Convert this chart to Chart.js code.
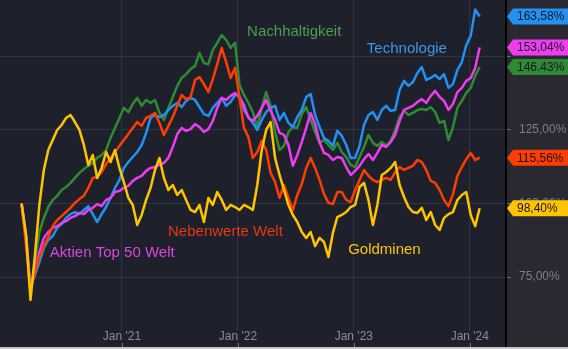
<!DOCTYPE html>
<html>
<head>
<meta charset="utf-8">
<script src="https://cdn.jsdelivr.net/npm/chart.js@4.4.1/dist/chart.umd.min.js"></script>
<style>
  html, body { margin: 0; padding: 0; background: #2a2932; }
  #wrap { width: 568px; height: 349px; }
</style>
</head>
<body>
<div id="wrap"><canvas id="chartPerformance" width="568" height="349"></canvas></div>
<script>
//* DATOS: Werte alle 14 Tage ab 20.02.2020 (Tag 0 = 01.01.2020)
const startDay = 50;
const stepDays = 14;
const tickDays = [366, 731, 1096, 1461];
const tickLabels = ["Jan '21", "Jan '22", "Jan '23", "Jan '24"];
const gridValues = [75, 100, 125, 150];
const labelledValues = [75, 100, 125];

const technologie = [100.0, 89.3, 71.3, 75.7, 80.1, 84.9, 87.6, 88.9, 91.7, 93.0,
  95.1, 96.4, 97.1, 96.4, 97.8, 99.1, 96.4, 93.7, 96.4, 98.8,
  101.9, 105.3, 108.0, 112.1, 114.1, 115.8, 117.5, 119.9, 124.0, 129.1,
  130.1, 129.4, 130.1, 131.8, 133.2, 134.2, 132.8, 134.9, 135.9, 135.2,
  132.8, 130.4, 129.8, 132.5, 134.2, 135.9, 133.2, 134.5, 136.9, 136.6,
  131.8, 129.4, 127.4, 125.0, 128.4, 131.1, 132.5, 133.2, 128.4, 130.8,
  127.4, 126.0, 129.4, 131.8, 136.2, 137.2, 130.1, 126.0, 122.3, 121.3,
  119.6, 124.7, 123.0, 119.9, 115.5, 115.5, 119.6, 126.7, 130.1, 131.1,
  128.4, 131.8, 133.2, 131.5, 131.8, 138.6, 141.7, 140.0, 141.3, 144.4,
  146.4, 142.0, 142.7, 143.7, 142.3, 144.0, 139.3, 140.6, 145.4, 148.1,
  153.9, 157.0, 166.0, 163.58];

const aktienTop50 = [100.0, 88.3, 70.6, 76.7, 83.5, 88.3, 90.3, 91.7, 92.3, 93.4,
  94.0, 95.1, 95.7, 96.8, 96.4, 97.8, 98.5, 99.8, 99.1, 101.2,
  101.9, 103.9, 104.3, 105.3, 106.0, 107.7, 108.7, 109.4, 111.1, 112.1,
  112.4, 113.1, 113.8, 115.5, 119.2, 123.6, 125.7, 124.7, 125.3, 127.0,
  126.0, 124.3, 125.3, 128.1, 132.5, 135.9, 135.2, 136.6, 137.6, 136.2,
  133.5, 129.1, 128.1, 129.8, 132.5, 135.2, 131.5, 128.4, 124.0, 123.3,
  119.9, 112.8, 116.5, 120.9, 125.7, 130.8, 127.0, 120.9, 117.2, 116.5,
  114.8, 115.8, 115.5, 112.4, 109.7, 111.1, 112.8, 115.1, 116.8, 114.8,
  117.2, 119.9, 119.2, 120.9, 123.3, 128.1, 131.8, 132.5, 133.2, 134.5,
  135.5, 134.2, 136.6, 138.3, 136.2, 134.9, 131.8, 133.8, 137.9, 139.3,
  141.7, 142.7, 146.1, 153.04];

const nachhaltigkeit = [100.0, 87.6, 69.9, 80.1, 90.3, 95.1, 98.8, 101.2, 102.6, 104.6,
  105.6, 107.0, 108.7, 110.4, 111.7, 112.8, 113.8, 115.5, 116.5, 118.2,
  122.3, 125.7, 129.1, 132.5, 131.1, 133.8, 135.9, 133.2, 135.2, 134.2,
  135.2, 130.8, 128.4, 132.5, 136.2, 140.0, 142.7, 144.0, 145.7, 146.8,
  151.2, 147.8, 147.4, 152.2, 154.6, 157.3, 155.6, 152.9, 154.6, 140.3,
  136.9, 134.2, 131.1, 126.0, 132.5, 137.9, 133.2, 124.3, 118.2, 119.6,
  124.3, 126.0, 125.7, 130.4, 132.8, 128.4, 124.3, 120.6, 121.6, 119.9,
  118.2, 120.6, 117.5, 115.8, 113.1, 112.4, 115.8, 119.2, 123.3, 120.6,
  119.6, 120.9, 119.6, 121.3, 125.0, 129.4, 131.5, 130.1, 130.8, 131.8,
  132.1, 131.8, 132.8, 131.1, 127.4, 128.1, 121.6, 126.0, 132.5, 134.9,
  137.6, 139.3, 143.4, 146.43];

const nebenwerte = [100.0, 85.9, 70.6, 76.7, 81.8, 85.5, 88.6, 92.3, 94.4, 95.7,
  97.1, 98.5, 100.2, 101.5, 102.6, 105.3, 108.7, 109.0, 110.7, 113.4,
  115.5, 117.5, 119.6, 121.6, 123.6, 125.7, 127.7, 126.4, 129.1, 129.8,
  130.8, 127.4, 123.3, 126.4, 129.4, 133.2, 136.9, 135.5, 136.2, 142.0,
  143.0, 140.6, 137.9, 142.3, 147.4, 152.9, 148.1, 142.7, 146.1, 135.9,
  125.7, 122.6, 115.5, 117.5, 121.3, 118.2, 110.4, 107.3, 101.9, 106.3,
  101.9, 97.8, 102.9, 106.6, 112.1, 115.5, 112.1, 108.0, 103.2, 100.2,
  99.8, 103.9, 103.9, 101.2, 100.5, 104.6, 108.0, 111.4, 109.4, 108.0,
  107.3, 108.0, 108.7, 108.0, 110.7, 112.4, 111.4, 112.1, 112.8, 114.8,
  114.1, 111.4, 107.7, 107.0, 104.6, 101.2, 99.1, 103.2, 109.4, 112.4,
  115.1, 117.2, 114.8, 115.56];

const goldminen = [100.0, 89.3, 67.2, 82.5, 99.5, 111.4, 118.2, 121.6, 125.0, 126.7,
  129.1, 130.1, 127.7, 125.0, 119.9, 113.1, 116.5, 108.7, 112.1, 117.5,
  114.1, 118.2, 112.1, 107.3, 101.9, 99.5, 92.7, 96.1, 101.2, 105.3,
  111.4, 115.5, 108.7, 104.6, 106.3, 102.9, 104.6, 101.2, 97.8, 97.1,
  99.5, 93.7, 101.9, 99.5, 103.9, 101.2, 97.8, 99.5, 98.8, 97.8,
  99.5, 98.8, 97.8, 106.3, 118.2, 125.0, 127.7, 115.5, 109.7, 104.6,
  99.5, 96.1, 93.7, 90.3, 88.3, 90.3, 85.5, 88.3, 86.9, 81.8,
  90.0, 95.4, 96.1, 97.1, 98.8, 99.5, 105.6, 107.0, 101.2, 92.7,
  99.5, 109.7, 110.7, 112.1, 114.1, 106.3, 102.2, 98.8, 97.1, 96.8,
  98.5, 94.4, 97.1, 92.7, 91.0, 95.1, 96.4, 97.1, 101.2, 102.9,
  103.9, 96.1, 92.3, 98.40];

// Reihenfolge = Zeichenreihenfolge (erste Reihe liegt oben)
const series = [
  { name: 'Goldminen', values: goldminen, color: '#ffc400', text: '#ffc400', sep: ',', at: [1078, 84.2] },
  { name: 'Nebenwerte Welt', values: nebenwerte, color: '#ff3d00', text: '#e8380c', sep: ',', at: [511, 90.3] },
  { name: 'Aktien Top 50 Welt', values: aktienTop50, color: '#f03cf0', text: '#d946e0', sep: ',', at: [139, 83.2] },
  { name: 'Technologie', values: technologie, color: '#2191f3', text: '#3d96e8', sep: ',', at: [1137, 152.5] },
  { name: 'Nachhaltigkeit', values: nachhaltigkeit, color: '#2f8a34', text: '#4c9f50', sep: '.', at: [760, 158.3] }
];

const plotBg = '#1e212c';
const panelBg = '#2a2932';
const fontFamily = '"Liberation Sans", Arial, sans-serif';

const fmtPct = (v, sep) => v.toFixed(2).replace('.', sep) + '%';

// Hintergrund: Plotbereich dunkel, Skalenleiste rechts etwas heller
const backgroundPlugin = {
  id: 'background',
  beforeDraw(chart) {
    const { ctx, chartArea: a, width, height } = chart;
    ctx.save();
    ctx.fillStyle = panelBg;
    ctx.fillRect(0, 0, width, height);
    ctx.fillStyle = plotBg;
    ctx.fillRect(a.left, a.top, a.right - a.left, a.bottom - a.top);
    ctx.restore();
  }
};

// Reihennamen direkt im Chart
const seriesNamesPlugin = {
  id: 'seriesNames',
  beforeDatasetsDraw(chart) {
    const { ctx, scales } = chart;
    ctx.save();
    ctx.font = '15px ' + fontFamily;
    ctx.textAlign = 'left';
    ctx.textBaseline = 'middle';
    series.forEach(s => {
      ctx.fillStyle = s.text;
      ctx.fillText(s.name, scales.x.getPixelForValue(s.at[0]), scales.y.getPixelForValue(s.at[1]));
    });
    ctx.restore();
  }
};

// Zeitachse: Beschriftung innerhalb des Plotbereichs
const timeAxisPlugin = {
  id: 'timeAxis',
  afterDraw(chart) {
    const { ctx, chartArea: a, scales, width, height } = chart;
    ctx.save();
    ctx.font = '12px ' + fontFamily;
    ctx.textAlign = 'center';
    ctx.textBaseline = 'middle';
    tickDays.forEach((d, i) => {
      const px = scales.x.getPixelForValue(d);
      const w = ctx.measureText(tickLabels[i]).width;
      ctx.fillStyle = plotBg;
      ctx.fillRect(px - w / 2 - 1, a.bottom - 16, w + 2, 12);
      ctx.fillStyle = '#8a8d97';
      ctx.fillText(tickLabels[i], px, a.bottom - 10);
      ctx.strokeStyle = '#6c6f79';
      ctx.lineWidth = 1;
      ctx.beginPath();
      ctx.moveTo(Math.round(px) + 0.5, a.bottom - 4);
      ctx.lineTo(Math.round(px) + 0.5, a.bottom);
      ctx.stroke();
    });
    ctx.fillStyle = '#c4c4c6';
    ctx.fillRect(0, a.bottom, width, height - a.bottom);
    ctx.restore();
  }
};

// Wertfahnen am rechten Rand mit dem letzten Wert jeder Reihe
const lastValuePlugin = {
  id: 'lastValue',
  afterDraw(chart) {
    const { ctx, chartArea: a, scales, width } = chart;
    const x0 = a.right + 1;
    const h = 8;
    ctx.save();
    ctx.font = '12px ' + fontFamily;
    ctx.textAlign = 'left';
    ctx.textBaseline = 'middle';
    series.forEach(s => {
      const v = s.values[s.values.length - 1];
      const y = scales.y.getPixelForValue(v);
      ctx.fillStyle = s.color;
      ctx.beginPath();
      ctx.moveTo(x0, y);
      ctx.lineTo(x0 + 6, y - h);
      ctx.lineTo(width, y - h);
      ctx.lineTo(width, y + h);
      ctx.lineTo(x0 + 6, y + h);
      ctx.closePath();
      ctx.fill();
      ctx.fillStyle = '#131722';
      ctx.fillText(fmtPct(v, s.sep), x0 + 10, y + 0.5);
    });
    ctx.restore();
  }
};

const ctxPerformance = document.getElementById('chartPerformance');

new Chart(ctxPerformance, {
  type: 'line',
  data: {
    datasets: series.map(s => ({
      label: s.name,
      data: s.values.map((v, i) => ({ x: startDay + i * stepDays, y: v })),
      borderColor: s.color,
      borderWidth: 2.5,
      borderJoinStyle: 'round',
      pointRadius: 0,
      tension: 0,
      fill: false
    }))
  },
  options: {
    responsive: false,
    animation: false,
    devicePixelRatio: 1,
    layout: { padding: { left: 0, right: 0, top: 0, bottom: 2 } },
    plugins: {
      legend: { display: false },
      tooltip: { enabled: false }
    },
    scales: {
      x: {
        type: 'linear',
        min: -18,
        max: 1575,
        afterBuildTicks: s => { s.ticks = tickDays.map(v => ({ value: v })); },
        afterFit: s => { s.height = 0; s.paddingLeft = 0; s.paddingRight = 0; },
        ticks: { display: false },
        grid: { color: '#30343f', drawTicks: false },
        border: { display: false }
      },
      y: {
        position: 'right',
        min: 51.2,
        max: 169.2,
        afterBuildTicks: s => { s.ticks = gridValues.map(v => ({ value: v })); },
        afterFit: s => { s.width = 62; s.paddingTop = 0; s.paddingBottom = 0; },
        ticks: {
          color: '#7c7f8a',
          padding: 8,
          font: { family: fontFamily, size: 12 },
          callback: v => labelledValues.includes(v) ? fmtPct(v, ',') : ''
        },
        grid: { color: '#30343f', tickLength: 5, tickColor: '#6c6f79' },
        border: { color: '#000000', width: 2 }
      }
    }
  },
  plugins: [backgroundPlugin, seriesNamesPlugin, timeAxisPlugin, lastValuePlugin]
});
</script>
</body>
</html>
